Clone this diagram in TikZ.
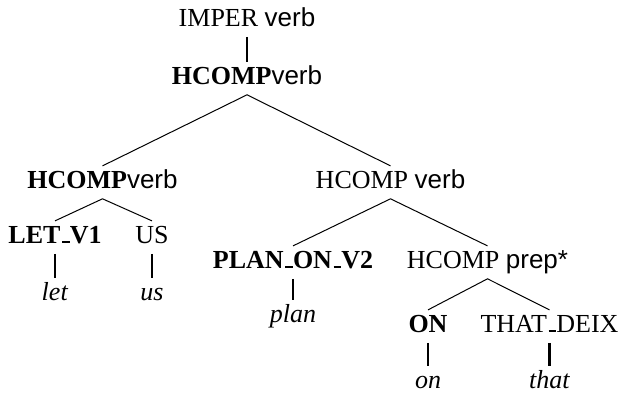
\documentclass[tikz,border=0pt]{standalone}
\usepackage{fontspec}
\setmainfont{Liberation Serif}
\newfontfamily\arialfont{Liberation Sans}
\usepackage{tikz}

% sans-serif part of a category label
\newcommand{\sanslbl}[1]{{\arialfont #1}}
% low rule as in the old OT1 underscore
\newcommand{\lowbar}{\leavevmode\kern.06em\vbox{\hrule width.3em height.07em}}

\tikzset{
  lbl/.style={anchor=base, inner sep=3.5pt, text height=12.9pt, text depth=4.4pt,
    font=\fontsize{19.5}{23}\selectfont},
  branch/.style={line width=0.75pt},
  unary/.style={line width=2pt},
}

\begin{document}
\begin{tikzpicture}[x=0.75pt,y=0.75pt,yscale=-1,xscale=1]
\useasboundingbox (0,0) rectangle (623,394);

% Text Node
\draw (247,26) node [lbl] (imper) {IMPER \sanslbl{verb}};
% Text Node
\draw (247,84) node [lbl] (hctop) {\textbf{HCOMP}\sanslbl{verb}};
% Text Node
\draw (102.5,188) node [lbl] (hcleft) {\textbf{HCOMP}\sanslbl{verb}};
% Text Node
\draw (390.5,188) node [lbl] (hcright) {HCOMP \sanslbl{verb}};
% Text Node
\draw (55,243) node [lbl] (letv) {\textbf{LET\lowbar V1}};
% Text Node
\draw (152,243) node [lbl] (us) {US};
% Text Node
\draw (55,300) node [lbl] (letw) {\textit{let}};
% Text Node
\draw (152,300) node [lbl] (usw) {\textit{us}};
% Text Node
\draw (293,268) node [lbl] (planv) {\textbf{PLAN\lowbar ON\lowbar V2}};
% Text Node
\draw (487.5,268) node [lbl] (prep) {HCOMP \sanslbl{prep*}};
% Text Node
\draw (293,322) node [lbl] (planw) {\textit{plan}};
% Text Node
\draw (428,332) node [lbl] (on) {\textbf{ON}};
% Text Node
\draw (549.5,332) node [lbl] (deix) {THAT\lowbar DEIX};
% Text Node
\draw (428,388) node [lbl] (onw) {\textit{on}};
% Text Node
\draw (549.5,388) node [lbl] (thatw) {\textit{that}};

%Straight Lines
\draw [unary] (imper.south) -- (hctop.north);
%Straight Lines
\draw [branch] (hcleft.north) -- (hctop.south) -- (hcright.north);
%Straight Lines
\draw [branch] (letv.north) -- (hcleft.south) -- (us.north);
%Straight Lines
\draw [unary] (letv.south) -- (letw.north);
\draw [unary] (us.south) -- (usw.north);
%Straight Lines
\draw [branch] (planv.north) -- (hcright.south) -- (prep.north);
%Straight Lines
\draw [unary] (planv.south) -- (planw.north);
%Straight Lines
\draw [branch] (on.north) -- (prep.south) -- (deix.north);
%Straight Lines
\draw [unary] (on.south) -- (onw.north);
\draw [unary] (deix.south) -- (thatw.north);
\end{tikzpicture}
\end{document}
